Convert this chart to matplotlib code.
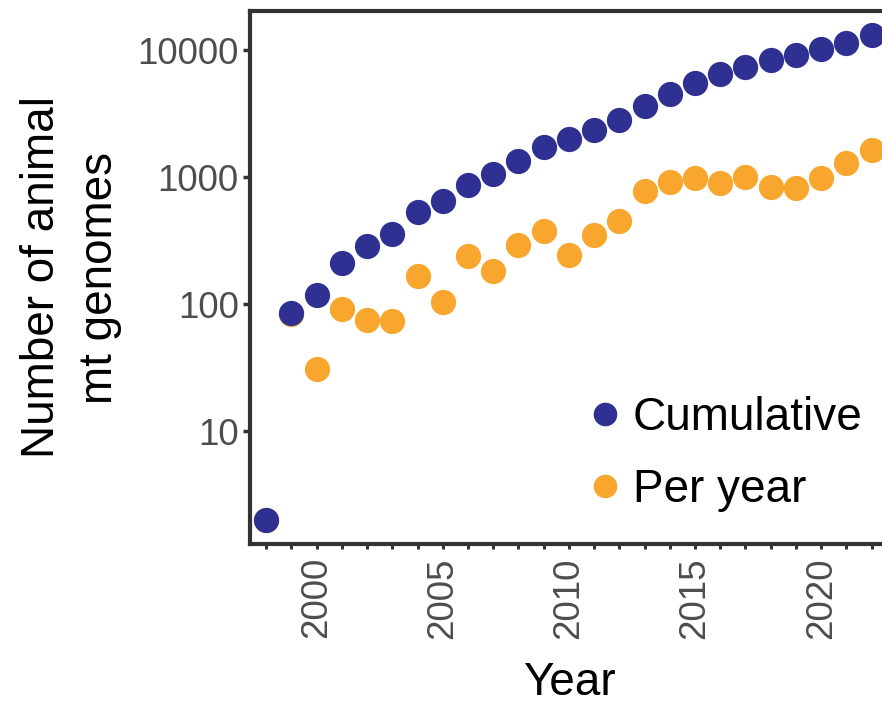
import matplotlib.pyplot as plt
from matplotlib.lines import Line2D

plt.rcParams["font.family"] = ["Liberation Sans", "DejaVu Sans"]

# Dados
years = list(range(1998, 2023))
cumulative = [2, 85, 117, 210, 286, 360, 530, 655, 875, 1062, 1350, 1740, 1988,
              2355, 2820, 3610, 4515, 5545, 6490, 7445, 8360, 9200, 10200, 11500, 13150]
per_year = [2, 84, 31, 91, 75, 74, 168, 104, 240, 181, 292, 380, 242,
            352, 456, 780, 918, 987, 895, 1005, 843, 824, 987, 1303, 1625]
year_labels = [2000, 2005, 2010, 2015, 2020]
y_ticks = [10, 100, 1000, 10000]

blue = "#2e3192"
orange = "#f8a62d"
dark = "#333333"

W, H = 882, 710
fig = plt.figure(figsize=(W / 100, H / 100), dpi=100)
# eixo se estende além da borda direita (figura cortada)
x0, x1 = 249.8, 888.0
ytop, ybot = 11.0, 544.0
ax = fig.add_axes([x0 / W, (H - ybot) / H, (x1 - x0) / W, (ybot - ytop) / H])

ax.scatter(years, per_year, s=330, color=orange, linewidths=0, zorder=2)
ax.scatter(years, cumulative, s=330, color=blue, linewidths=0, zorder=3)

ax.set_yscale("log")
ax.set_ylim(10 ** 0.11, 10 ** 4.31)
ax.set_xlim(1997.35, 2022.65)

ax.set_yticks(y_ticks)
ax.set_yticklabels([str(v) for v in y_ticks])
ax.yaxis.set_minor_locator(plt.NullLocator())
ax.set_xticks(years)
ax.set_xticklabels([str(y) if y in year_labels else "" for y in years], rotation=90)

ax.tick_params(axis="y", length=5, width=2.5, color=dark, labelsize=26.5,
               labelcolor="#4d4d4d", pad=3)
ax.tick_params(axis="x", length=3.5, width=2.2, color=dark, labelsize=26.5,
               labelcolor="#4d4d4d", pad=6)

for side in ["left", "bottom", "top", "right"]:
    ax.spines[side].set_linewidth(3)
    ax.spines[side].set_color(dark)

ax.set_xlabel("Year", fontsize=33, labelpad=16)
ax.set_ylabel("Number of animal\nmt genomes", fontsize=33, labelpad=11,
              linespacing=1.4)

handles = [
    Line2D([], [], ls="", marker="o", markersize=17, color=blue, markeredgewidth=0),
    Line2D([], [], ls="", marker="o", markersize=17, color=orange, markeredgewidth=0),
]
ax.legend(handles, ["Cumulative", "Per year"], loc="upper left",
          bbox_to_anchor=(587 / W, 1 - 396 / H), bbox_transform=fig.transFigure,
          frameon=False, fontsize=33, handlelength=0.8, handletextpad=0.2,
          labelspacing=0.62, borderpad=0, borderaxespad=0)

fig.savefig("out.png", dpi=100)
